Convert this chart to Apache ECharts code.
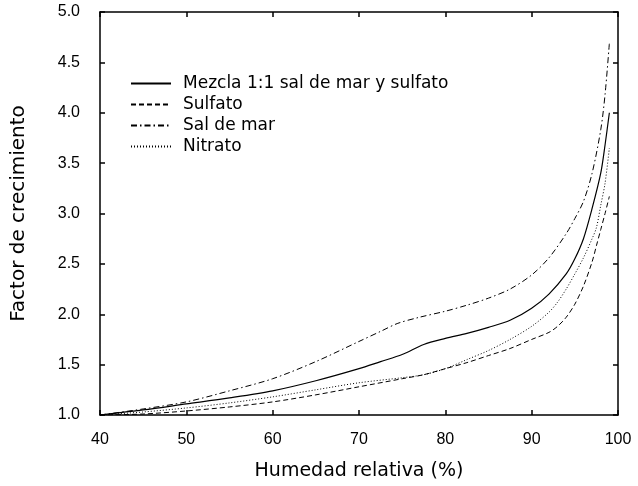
<!DOCTYPE html>
<html>
<head>
<meta charset="utf-8">
<script src="https://cdn.jsdelivr.net/npm/echarts@6/dist/echarts.min.js"></script>
<style>html,body{margin:0;padding:0;background:#fff}#c{width:638px;height:486px}</style>
</head>
<body>
<div id="c"></div>
<script>
const seriesNames = ['Mezcla 1:1 sal de mar y sulfato', 'Sulfato', 'Sal de mar', 'Nitrato'];
const xTitle = 'Humedad relativa (%)';
const yTitle = 'Factor de crecimiento';

const rhMezcla = [40, 45, 50, 55, 60, 65, 70, 72.5, 75, 77.5, 80, 82.5, 85, 87.5, 90, 92, 94, 95, 96, 97, 98, 98.5, 99];
const gfMezcla = [1.0, 1.05, 1.11, 1.17, 1.24, 1.34, 1.46, 1.53, 1.60, 1.70, 1.76, 1.81, 1.87, 1.94, 2.06, 2.20, 2.40, 2.55, 2.75, 3.05, 3.40, 3.68, 4.0];

const rhSulfato = [40, 45, 50, 55, 60, 65, 70, 75, 77.5, 80, 82.5, 85, 87.5, 90, 92, 93, 94, 95, 96, 97, 97.5, 98, 98.5, 99];
const gfSulfato = [1.0, 1.01, 1.04, 1.08, 1.13, 1.20, 1.28, 1.36, 1.40, 1.46, 1.52, 1.59, 1.66, 1.75, 1.82, 1.88, 1.97, 2.10, 2.28, 2.52, 2.68, 2.84, 3.0, 3.17];

const rhSalMar = [40, 45, 50, 55, 60, 65, 70, 72.5, 74.5, 77, 80, 82.5, 85, 87.5, 90, 92, 94, 95, 96, 97, 98, 98.5, 99];
const gfSalMar = [1.0, 1.06, 1.13, 1.24, 1.36, 1.53, 1.73, 1.83, 1.91, 1.97, 2.03, 2.09, 2.16, 2.25, 2.39, 2.56, 2.80, 2.95, 3.12, 3.40, 3.83, 4.18, 4.69];

const rhNitrato = [40, 45, 50, 55, 60, 65, 70, 75, 77.5, 80, 82.5, 85, 87.5, 90, 92, 93, 94, 95, 96, 97, 97.5, 98, 98.5, 99];
const gfNitrato = [1.0, 1.03, 1.07, 1.12, 1.18, 1.25, 1.32, 1.37, 1.40, 1.46, 1.55, 1.64, 1.75, 1.88, 2.02, 2.12, 2.25, 2.40, 2.56, 2.75, 2.86, 3.08, 3.30, 3.65];

const xTicks = [40, 50, 60, 70, 80, 90, 100];
const yTicks = ['1.0', '1.5', '2.0', '2.5', '3.0', '3.5', '4.0', '4.5', '5.0'];

const pairs = (xs, ys) => xs.map((x, i) => [x, ys[i]]);

const tickFont = { fontFamily: 'Liberation Sans', fontSize: 16, color: '#000' };
const lineAx = { show: true, lineStyle: { color: '#000', width: 1.5 } };
const tickAx = { show: true, inside: true, length: 5, lineStyle: { color: '#000', width: 1.5 } };

const chart = echarts.init(document.getElementById('c'), null, { renderer: 'canvas' });
chart.setOption({
  animation: false,
  backgroundColor: '#fff',
  grid: { left: 100, right: 20, top: 12, bottom: 70 },
  legend: {
    orient: 'vertical', left: 125, top: 70,
    itemWidth: 40, itemHeight: 14, itemGap: 4,
    itemStyle: { opacity: 0 },
    textStyle: { fontFamily: 'DejaVu Sans', fontSize: 17, color: '#000', padding: [0, 0, 0, 7] },
    data: seriesNames
  },
  xAxis: [{
    type: 'value', min: 40, max: 100, interval: 10,
    name: xTitle, nameLocation: 'middle', nameGap: 47,
    nameTextStyle: { fontFamily: 'DejaVu Sans', fontSize: 19, color: '#000' },
    axisLine: lineAx, axisTick: tickAx, splitLine: { show: false },
    axisLabel: Object.assign({ margin: 17, formatter: v => xTicks.includes(v) ? String(v) : '' }, tickFont)
  }, {
    type: 'value', position: 'top', min: 40, max: 100, interval: 10,
    axisLine: lineAx, axisTick: tickAx, splitLine: { show: false }, axisLabel: { show: false }
  }],
  yAxis: [{
    type: 'value', min: 1.0, max: 5.0, interval: 0.5,
    name: yTitle, nameLocation: 'middle', nameGap: 71,
    nameTextStyle: { fontFamily: 'DejaVu Sans', fontSize: 20, color: '#000' },
    axisLine: lineAx, axisTick: tickAx, splitLine: { show: false },
    axisLabel: Object.assign({ margin: 20, formatter: v => yTicks[Math.round((v - 1) * 2)] }, tickFont)
  }, {
    type: 'value', position: 'right', min: 1.0, max: 5.0, interval: 0.5,
    axisLine: lineAx, axisTick: tickAx, splitLine: { show: false }, axisLabel: { show: false }
  }],
  series: [
    { name: seriesNames[0], type: 'line', showSymbol: false, symbol: 'none', smooth: 0.3,
      data: pairs(rhMezcla, gfMezcla), lineStyle: { color: '#000', width: 1.2, type: 'solid' }, itemStyle: { color: '#000' } },
    { name: seriesNames[1], type: 'line', showSymbol: false, symbol: 'none', smooth: 0.3,
      data: pairs(rhSulfato, gfSulfato), lineStyle: { color: '#000', width: 1, type: [5, 3] }, itemStyle: { color: '#000' } },
    { name: seriesNames[2], type: 'line', showSymbol: false, symbol: 'none', smooth: 0.3,
      data: pairs(rhSalMar, gfSalMar), lineStyle: { color: '#000', width: 1, type: [6, 3, 1.5, 3] }, itemStyle: { color: '#000' } },
    { name: seriesNames[3], type: 'line', showSymbol: false, symbol: 'none', smooth: 0.3,
      data: pairs(rhNitrato, gfNitrato), lineStyle: { color: '#000', width: 1, type: [1, 2] }, itemStyle: { color: '#000' } }
  ]
});
</script>
</body>
</html>
